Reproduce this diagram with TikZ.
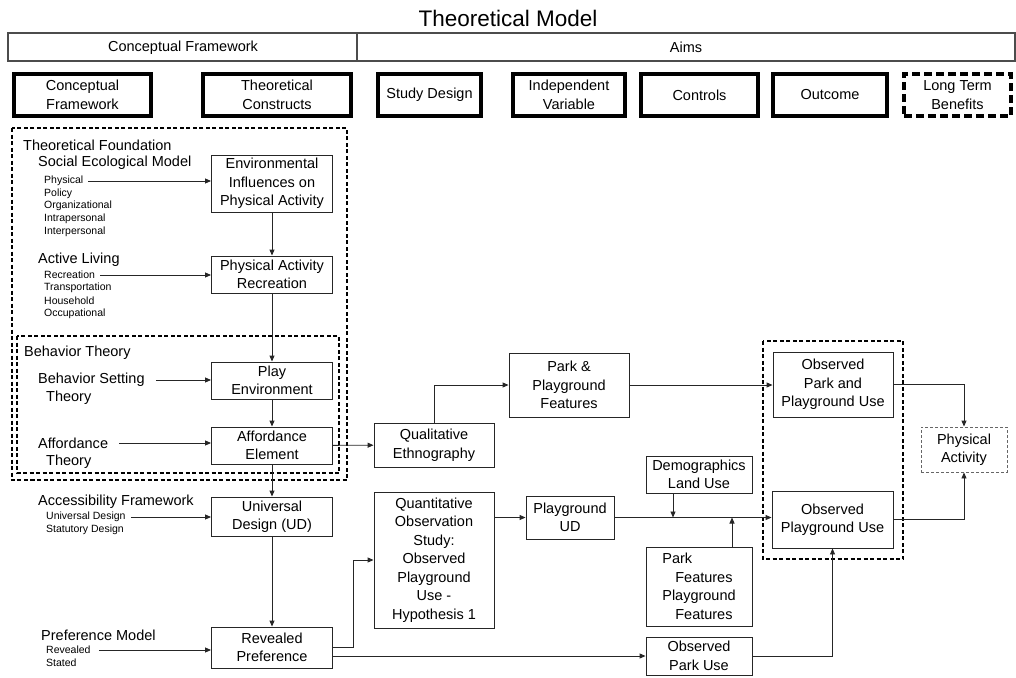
\documentclass[tikz,border=0pt]{standalone}
\usepackage{fontspec}
\setmainfont{Liberation Sans}
\usetikzlibrary{arrows.meta}
\newcommand{\bodyfont}{\fontsize{14.5pt}{18.5pt}\selectfont}
\newcommand{\subfont}{\fontsize{10.5pt}{12.7pt}\selectfont}

\begin{document}
\begin{tikzpicture}[
  x=1pt, y=-1pt,
  >={Triangle[length=6pt,width=5pt]},
  cbox/.style={draw=black!85, line width=0.9pt, inner sep=0pt, align=center, font=\bodyfont},
  hbox/.style={draw, line width=3.8pt, inner sep=0pt, align=center, font=\bodyfont, minimum height=42},
  lbl/.style={anchor=west, inner sep=1pt, font=\bodyfont},
  sub/.style={anchor=west, inner sep=1pt, font=\subfont},
  group/.style={draw, line width=1.8pt, dash pattern=on 4pt off 2.5pt},
  link/.style={->, line width=0.9pt, black!85},
  feed/.style={link, shorten <=4pt}
]
  \useasboundingbox (0,0) rectangle (1016,677);

  % title and header row
  \node[font=\fontsize{22.5pt}{26pt}\selectfont] (title) at (508,18) {Theoretical Model};
  \draw[line width=1.2pt, black!70] (8,33) rectangle (1015,61) (357,33) -- (357,61);
  \node[font=\bodyfont] (hcf) at (183,47.5) {Conceptual Framework};
  \node[font=\bodyfont] (haims) at (686,47.5) {Aims};

  \node[hbox, minimum width=137] (cf) at (82.5,95) {Conceptual\\Framework};
  \node[hbox, minimum width=148] (tc) at (277,95) {Theoretical\\Constructs};
  \node[hbox, minimum width=103] (sd) at (429.5,95) {Study Design};
  \node[hbox, minimum width=112] (iv) at (569,95) {Independent\\Variable};
  \node[hbox, minimum width=117] (ctl) at (699.5,95) {Controls};
  \node[hbox, minimum width=114] (out) at (830,95) {Outcome};
  \node[hbox, minimum width=107, dash pattern=on 8pt off 4pt] (ltb) at (957.5,95) {Long Term\\Benefits};

  % dashed groups
  \draw[group] (12,128) rectangle (347,480);
  \draw[group] (17,336) rectangle (339,473);
  \draw[group] (763,341) rectangle (903,559);

  % left column labels
  \node[lbl] (tf) at (22,145) {Theoretical Foundation};
  \node[lbl] (sem) at (37,163) {Social Ecological Model};
  \node[sub] (phys) at (43,181) {Physical};
  \node[sub] (pol) at (43,193.5) {Policy};
  \node[sub] (org) at (43,206) {Organizational};
  \node[sub] (intra) at (43,219) {Intrapersonal};
  \node[sub] (inter) at (43,232) {Interpersonal};
  \node[lbl] (al) at (37,260) {Active Living};
  \node[sub] (rec) at (43,275) {Recreation};
  \node[sub] (trans) at (43,288) {Transportation};
  \node[sub] (house) at (43,301) {Household};
  \node[sub] (occ) at (43,314) {Occupational};
  \node[lbl] (bt) at (23,353) {Behavior Theory};
  \node[lbl] (bst) at (37,380) {Behavior Setting};
  \node[lbl] (bstb) at (45,398) {Theory};
  \node[lbl] (afft) at (37,443) {Affordance};
  \node[lbl] (afftb) at (45,462) {Theory};
  \node[lbl] (acc) at (37,502) {Accessibility Framework};
  \node[sub] (unid) at (45,517) {Universal Design};
  \node[sub] (stat) at (45,530) {Statutory Design};
  \node[lbl] (prm) at (40,635) {Preference Model};
  \node[sub] (revd) at (45,650) {Revealed};
  \node[sub] (stated) at (45,663) {Stated};

  % construct boxes
  \node[cbox, minimum width=121, minimum height=57] (env) at (272,183.5) {Environmental\\Influences on\\Physical Activity};
  \node[cbox, minimum width=121, minimum height=37] (parec) at (272,274.5) {Physical Activity\\Recreation};
  \node[cbox, minimum width=121, minimum height=37] (play) at (272,380.5) {Play\\Environment};
  \node[cbox, minimum width=121, minimum height=37] (aff) at (272,445.5) {Affordance\\Element};
  \node[cbox, minimum width=121, minimum height=39] (ud) at (272,516.5) {Universal\\Design (UD)};
  \node[cbox, minimum width=121, minimum height=41] (rev) at (272,647.5) {Revealed\\Preference};

  % aims boxes
  \node[cbox, minimum width=120, minimum height=44] (qual) at (434,445) {Qualitative\\Ethnography};
  \node[cbox, minimum width=120, minimum height=136] (quant) at (434,560) {Quantitative\\Observation\\Study:\\Observed\\Playground\\Use -\\Hypothesis 1};
  \node[cbox, minimum width=120, minimum height=64] (ppf) at (569,385) {Park \&\\Playground\\Features};
  \node[cbox, minimum width=88, minimum height=43] (pud) at (570,517.5) {Playground\\UD};
  \node[cbox, minimum width=106, minimum height=37] (demo) at (699,474.5) {Demographics\\Land Use};
  \node[cbox, minimum width=106, minimum height=79, align=left] (pfeat) at (699,586.5) {Park\\\hspace*{13pt}Features\\Playground\\\hspace*{13pt}Features};
  \node[cbox, minimum width=106, minimum height=38] (opark) at (699,656) {Observed\\Park Use};
  \node[cbox, minimum width=120, minimum height=65] (oppu) at (833,384.5) {Observed\\Park and\\Playground Use};
  \node[cbox, minimum width=121, minimum height=57] (opu) at (832.5,519.5) {Observed\\Playground Use};
  \node[cbox, minimum width=86, minimum height=45, draw=black!60, line width=0.9pt, dash pattern=on 3pt off 2pt] (pa) at (964,449.5) {Physical\\Activity};

  % label feeds
  \draw[feed] (phys.east) -- (env.west |- phys.east);
  \draw[feed] (rec.east) -- (parec.west |- rec.east);
  \draw[feed, shorten <=10pt] (bst.east) -- (play.west |- bst.east);
  \draw[feed, shorten <=10pt] (afft.east) -- (aff.west |- afft.east);
  \draw[feed] (unid.east) -- (ud.west |- unid.east);
  \draw[feed, shorten <=7pt] (revd.east) -- (rev.west |- revd.east);

  % construct chain
  \draw[link] (env) -- (parec);
  \draw[link] (parec) -- (play);
  \draw[link] (play) -- (aff);
  \draw[link] (aff) -- (ud);
  \draw[link] (ud) -- (rev);

  % aims links
  \draw[link] (aff) -- (qual);
  \draw[link] (qual.north) |- (ppf.west);
  \draw[link] (ppf) -- (oppu.west |- ppf.east);
  \draw[link] (rev.east) -- ++(20,0) |- (quant.west);
  \draw[link] (rev.east |- opark.west) -- (opark.west);
  \draw[link] (quant.east |- pud.west) -- (pud.west);
  \draw[link] (pud.east) -- (opu.west |- pud.east);
  \draw[link] ([xshift=-26pt]demo.south) -- ([xshift=-26pt]demo.south |- pud.east);
  \draw[link] ([xshift=33pt]pfeat.north) -- ([xshift=33pt]pfeat.north |- pud.east);
  \draw[link] (opark.east) -| (opu.south);
  \draw[link] (oppu.east) -| (pa.north);
  \draw[link] (opu.east) -| (pa.south);
\end{tikzpicture}
\end{document}
